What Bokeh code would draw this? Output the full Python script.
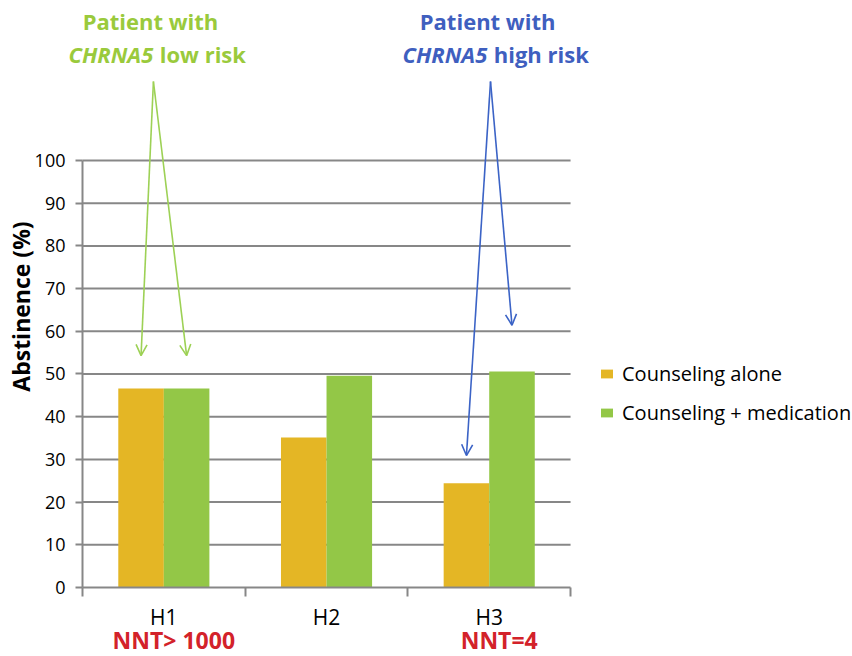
import math
from bokeh.plotting import figure
from bokeh.models import (Range1d, FixedTicker, Label, Arrow, OpenHead, Legend, LegendItem,
                          ColumnDataSource)
from bokeh.embed import file_html
from bokeh.resources import INLINE

categories = ["H1", "H2", "H3"]
counseling_alone = [46.6, 35.1, 24.4]
counseling_med = [46.6, 49.6, 50.6]
nnt_labels = ["NNT> 1000", "", "NNT=4"]
y_ticks = [0, 10, 20, 30, 40, 50, 60, 70, 80, 90, 100]

ORANGE = "#E4B625"
GREEN = "#93C747"
GRAY = "#878787"
FONT = "Open Sans"

BAR_W = 0.28
centers = [i + 0.5 for i in range(len(categories))]
x_alone = [c - BAR_W / 2 for c in centers]
x_med = [c + BAR_W / 2 for c in centers]

p = figure(frame_width=852, frame_height=656, output_backend="svg", toolbar_location=None,
           x_range=Range1d(-0.504, 4.733), y_range=Range1d(-16.16, 137.47),
           min_border=0)
p.outline_line_color = None
p.background_fill_color = "white"
p.border_fill_color = "white"
p.xgrid.visible = False
p.ygrid.visible = False

# horizontal gridlines
p.segment(x0=0, x1=len(categories), y0=y_ticks[1:], y1=y_ticks[1:], line_color=GRAY, line_width=2)

src1 = ColumnDataSource(dict(x=x_alone, top=counseling_alone))
src2 = ColumnDataSource(dict(x=x_med, top=counseling_med))
r1 = p.vbar(x="x", top="top", bottom=0, width=BAR_W, source=src1, fill_color=ORANGE, line_color=None)
r2 = p.vbar(x="x", top="top", bottom=0, width=BAR_W, source=src2, fill_color=GREEN, line_color=None)

# axes
xa = p.xaxis[0]
xa.fixed_location = 0
xa.bounds = (0, len(categories))
xa.ticker = FixedTicker(ticks=centers, minor_ticks=list(range(len(categories) + 1)))
xa.major_label_overrides = {c: n for c, n in zip(centers, categories)}
xa.major_tick_out = 0
xa.major_tick_in = 0
xa.minor_tick_out = 9
xa.minor_tick_in = 0
xa.minor_tick_line_color = GRAY
xa.minor_tick_line_width = 2
xa.axis_line_color = GRAY
xa.axis_line_width = 2
xa.major_label_text_font = FONT
xa.major_label_text_font_size = "21px"
xa.major_label_text_color = "black"
xa.major_label_standoff = 7

ya = p.yaxis[0]
ya.fixed_location = 0
ya.bounds = (0, 100)
ya.ticker = FixedTicker(ticks=y_ticks)
ya.minor_tick_line_color = None
ya.major_tick_out = 7
ya.major_tick_in = 0
ya.major_tick_line_color = GRAY
ya.major_tick_line_width = 2
ya.axis_line_color = GRAY
ya.axis_line_width = 2
ya.major_label_text_font = FONT
ya.major_label_text_font_size = "18px"
ya.major_label_text_color = "black"
ya.major_label_standoff = 10

p.add_layout(Label(x=-0.381, y=65.8, text="Abstinence (%)", angle=math.pi / 2,
                   text_font=FONT, text_font_style="bold", text_font_size="23px",
                   text_color="black", text_align="center", text_baseline="middle"))

# NNT labels
for c, t in zip(centers, nnt_labels):
    if t:
        p.add_layout(Label(x=c, y=-12.4, x_offset=10, text=t, text_font=FONT,
                           text_font_style="bold", text_font_size="23px", text_color="#D3222A",
                           text_align="center", text_baseline="alphabetic"))

# annotations
TXT_G = "#9ACA3C"
TXT_B = "#3F5FBF"
ARR_G = "#9DD155"
ARR_B = "#3B63C6"

def note(xc, x_ital_right, rest, color):
    p.add_layout(Label(x=xc, y=132.6, text="Patient with", text_font=FONT, text_font_style="bold",
                       text_font_size="22px", text_color=color, text_align="center",
                       text_baseline="alphabetic"))
    p.add_layout(Label(x=x_ital_right, y=124.9, text="CHRNA5", text_font=FONT,
                       text_font_style="bold italic", text_font_size="22px", text_color=color,
                       text_align="right", text_baseline="alphabetic"))
    p.add_layout(Label(x=x_ital_right + 0.04, y=124.9, text=rest, text_font=FONT,
                       text_font_style="bold", text_font_size="22px", text_color=color,
                       text_align="left", text_baseline="alphabetic"))

note(0.418, 0.435, "low risk", TXT_G)
note(2.49, 2.488, "high risk", TXT_B)

def arrows(apex_x, targets, color):
    for tx, ty in targets:
        p.add_layout(Arrow(x_start=apex_x, y_start=118.5, x_end=tx, y_end=ty,
                           line_color=color, line_width=1.6,
                           end=OpenHead(size=11, line_color=color, line_width=1.6)))

arrows(0.436, [(x_alone[0], counseling_alone[0] + 7.7), (x_med[0], counseling_med[0] + 7.7)], ARR_G)
arrows(2.508, [(x_alone[2], counseling_alone[2] + 6.5), (x_med[2], counseling_med[2] + 10.8)], ARR_B)

legend = Legend(items=[LegendItem(label="Counseling alone", renderers=[r1]),
                       LegendItem(label="Counseling + medication", renderers=[r2])],
                location=(599, 230), orientation="vertical",
                glyph_width=15, glyph_height=11, label_height=20, spacing=12,
                label_standoff=8, padding=0, margin=0,
                border_line_color=None, background_fill_alpha=0,
                label_text_font=FONT, label_text_font_size="20px", label_text_color="black")
p.add_layout(legend, "center")

open("out.html", "w").write(file_html(p, INLINE))
